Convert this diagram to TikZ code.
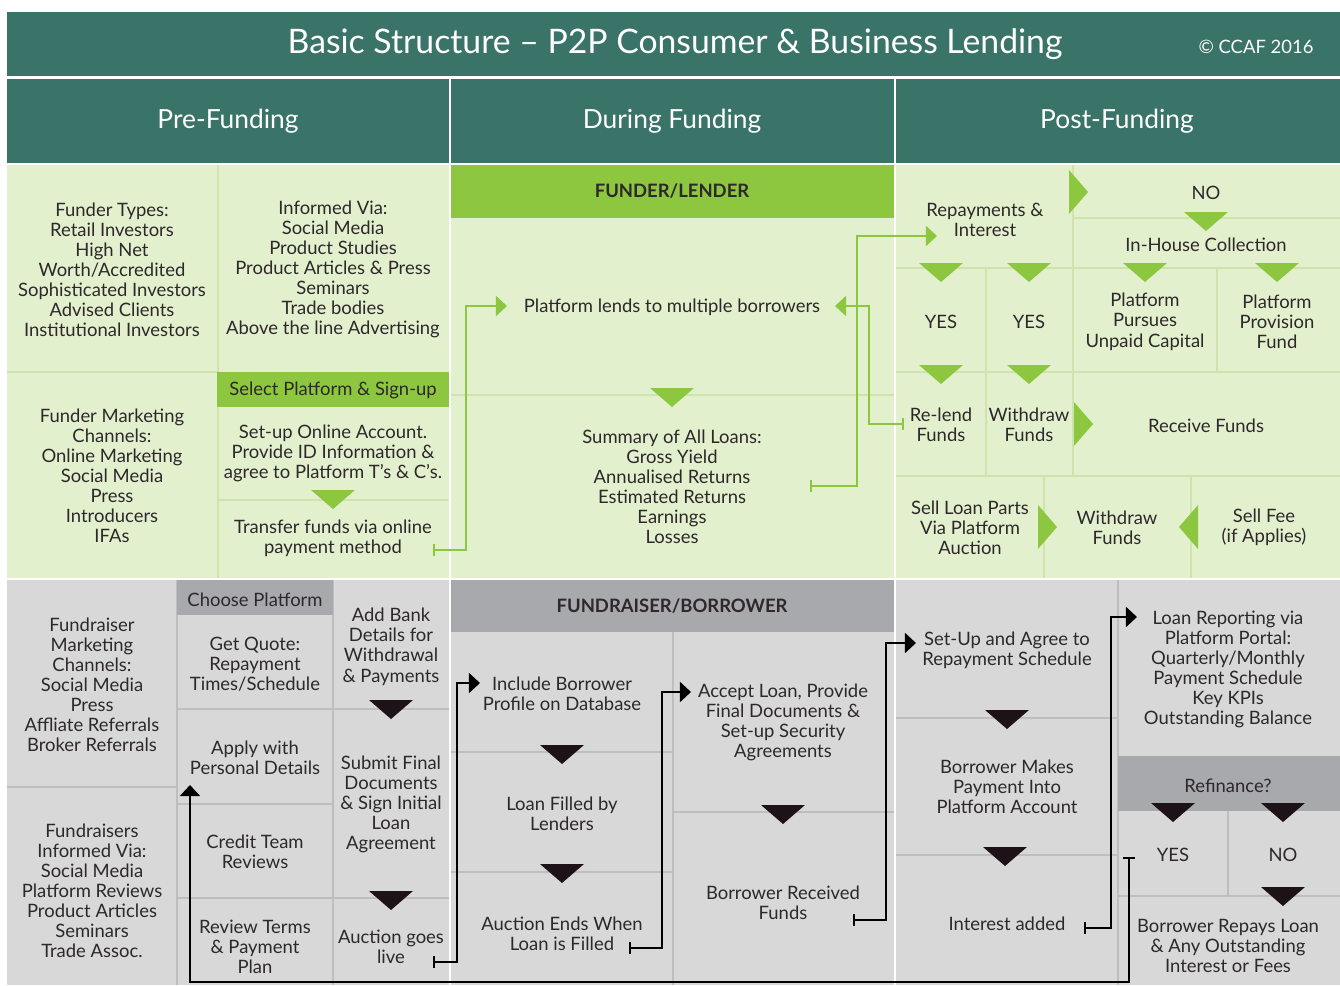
\documentclass[tikz,border=0pt]{standalone}
\usepackage{fontspec}
\setmainfont{Lato}
\usetikzlibrary{arrows.meta}

\definecolor{hdteal}{RGB}{58,115,104}
\definecolor{paleg}{RGB}{227,240,206}
\definecolor{lineg}{RGB}{206,228,172}
\definecolor{brightg}{RGB}{141,198,63}
\definecolor{palek}{RGB}{216,216,216}
\definecolor{linek}{RGB}{190,190,190}
\definecolor{darkk}{RGB}{168,169,172}
\definecolor{ink}{RGB}{45,40,42}
\definecolor{tri}{RGB}{30,18,25}

\tikzset{
    tridown/.pic={\fill (-22,0) -- (22,0) -- (0,19) -- cycle;},
    triright/.pic={\fill (0,-22) -- (19,0) -- (0,22) -- cycle;},
    trileft/.pic={\fill (0,-22) -- (-19,0) -- (0,22) -- cycle;}
}

\begin{document}
\begin{tikzpicture}[x=0.02cm, y=-0.02cm,
    txt/.style={align=center, text=ink, inner sep=0pt, yshift=-1pt, font=\fontsize{10.5}{11.4}\selectfont},
    head/.style={text=white, font=\fontsize{15}{17}\selectfont},
    tag/.style={text=ink, font=\bfseries\fontsize{10.5}{12}\selectfont},
    gline/.style={lineg, line width=1pt},
    kline/.style={linek, line width=1pt},
    gflow/.style={brightg, line width=1.1pt, {Bar[width=7pt]}-{Triangle[length=6.3pt, width=11.4pt]}},
    kflow/.style={black, line width=1.1pt, {Bar[width=7pt]}-{Triangle[length=6.3pt, width=11.4pt]}}
]

    % Frame
    \useasboundingbox (0,0) rectangle (1340,985);
    \fill[white] (0,0) rectangle (1340,985);

    % Title and column heads
    \fill[hdteal] (7,12) rectangle (1340,76);
    \fill[hdteal] (7,79) rectangle (449,163);
    \fill[hdteal] (451,79) rectangle (894,163);
    \fill[hdteal] (896,79) rectangle (1340,163);
    \node[text=white, font=\fontsize{19.2}{21}\selectfont] (title) at (675,44) {Basic Structure – P2P Consumer \& Business Lending};
    \node[text=white, font=\fontsize{10.5}{12}\selectfont] (ccaf) at (1256,47) {© CCAF 2016};
    \node[head] (pre) at (228,121) {Pre-Funding};
    \node[head] (during) at (672,121) {During Funding};
    \node[head] (post) at (1117,121) {Post-Funding};

    % Panels
    \fill[paleg] (7,165) rectangle (449,578);
    \fill[paleg] (451,165) rectangle (894,578);
    \fill[paleg] (896,165) rectangle (1340,578);
    \fill[palek] (7,580) rectangle (449,985);
    \fill[palek] (451,580) rectangle (894,985);
    \fill[palek] (896,580) rectangle (1340,985);

    % Funder grid
    \draw[gline] (218,165) -- (218,578);
    \draw[gline] (7,372) -- (218,372);
    \draw[gline] (218,500) -- (449,500);
    \draw[gline] (451,395) -- (894,395);
    \draw[gline] (1073,165) -- (1073,476);
    \draw[gline] (1073,218) -- (1340,218);
    \draw[gline] (896,268) -- (1340,268);
    \draw[gline] (986,268) -- (986,476);
    \draw[gline] (1217,268) -- (1217,372);
    \draw[gline] (896,372) -- (1340,372);
    \draw[gline] (896,476) -- (1340,476);
    \draw[gline] (1044,476) -- (1044,578);
    \draw[gline] (1191,476) -- (1191,578);

    % Fundraiser grid
    \draw[kline] (7,787) -- (177,787);
    \draw[kline] (177,580) -- (177,985);
    \draw[kline] (333,580) -- (333,985);
    \draw[kline] (177,709) -- (449,709);
    \draw[kline] (177,804) -- (333,804);
    \draw[kline] (177,898) -- (449,898);
    \draw[kline] (673,632) -- (673,985);
    \draw[kline] (451,752) -- (673,752);
    \draw[kline] (451,872) -- (673,872);
    \draw[kline] (673,812) -- (894,812);
    \draw[kline] (1118,580) -- (1118,985);
    \draw[kline] (896,718) -- (1118,718);
    \draw[kline] (896,855) -- (1118,855);
    \draw[kline] (1228,811) -- (1228,896);
    \draw[kline] (1118,896) -- (1340,896);

    % Bars
    \fill[brightg] (217,372) rectangle (449,407);
    \fill[brightg] (451,165) rectangle (894,218);
    \fill[darkk] (177,580) rectangle (333,615);
    \fill[darkk] (451,580) rectangle (894,632);
    \fill[darkk] (1118,756) rectangle (1340,811);
    \node[txt] (signup) at (333,389) {Select Platform \& Sign-up};
    \node[tag] (lender) at (672,191) {FUNDER/LENDER};
    \node[txt] (choose) at (255,598) {Choose Platform};
    \node[tag] (borrower) at (672,606) {FUNDRAISER/BORROWER};
    \node[txt] (refi) at (1228,784) {Refinance?};

    % Funder side
    \node[txt] (types) at (112,268) {Funder Types:\\Retail Investors\\High Net\\Worth/Accredited\\Sophisticated Investors\\Advised Clients\\Institutional Investors};
    \node[txt] (informed) at (333,268) {Informed Via:\\Social Media\\Product Studies\\Product Articles \& Press\\Seminars\\Trade bodies\\Above the line Advertising};
    \node[txt] (channels) at (112,474) {Funder Marketing\\Channels:\\Online Marketing\\Social Media\\Press\\Introducers\\IFAs};
    \node[txt] (account) at (333,452) {Set-up Online Account.\\Provide ID Information \&\\agree to Platform T’s \& C’s.};
    \node[txt] (transfer) at (333,537) {Transfer funds via online\\payment method};
    \node[txt] (lends) at (672,306) {Platform lends to multiple borrowers};
    \node[txt] (summary) at (672,485) {Summary of All Loans:\\Gross Yield\\Annualised Returns\\Estimated Returns\\Earnings\\Losses};
    \node[txt] (repay) at (985,218) {Repayments \&\\Interest};
    \node[txt] (no) at (1206,191) {NO};
    \node[txt] (inhouse) at (1206,243) {In-House Collection};
    \node[txt] (yesa) at (941,320) {YES};
    \node[txt] (yesb) at (1029,320) {YES};
    \node[txt] (pursue) at (1145,320) {Platform\\Pursues\\Unpaid Capital};
    \node[txt] (provision) at (1277,320) {Platform\\Provision\\Fund};
    \node[txt] (relend) at (941,423) {Re-lend\\Funds};
    \node[txt] (withdrawa) at (1029,423) {Withdraw\\Funds};
    \node[txt] (receive) at (1206,424) {Receive Funds};
    \node[txt] (sellparts) at (970,526) {Sell Loan Parts\\Via Platform\\Auction};
    \node[txt] (withdrawb) at (1117,526) {Withdraw\\Funds};
    \node[txt] (sellfee) at (1264,526) {Sell Fee\\(if Applies)};

    % Fundraiser side
    \node[txt] (fchannels) at (92,683) {Fundraiser\\Marketing\\Channels:\\Social Media\\Press\\Affliate Referrals\\Broker Referrals};
    \node[txt] (finformed) at (92,889) {Fundraisers\\Informed Via:\\Social Media\\Platform Reviews\\Product Articles\\Seminars\\Trade Assoc.};
    \node[txt] (quote) at (255,662) {Get Quote:\\Repayment\\Times/Schedule};
    \node[txt] (apply) at (255,756) {Apply with\\Personal Details};
    \node[txt] (credit) at (255,850) {Credit Team\\Reviews};
    \node[txt] (terms) at (255,945) {Review Terms\\\& Payment\\Plan};
    \node[txt] (bank) at (391,645) {Add Bank\\Details for\\Withdrawal\\\& Payments};
    \node[txt] (submit) at (391,803) {Submit Final\\Documents\\\& Sign Initial\\Loan\\Agreement};
    \node[txt] (live) at (391,945) {Auction goes\\live};
    \node[txt] (profile) at (562,692) {Include Borrower\\Profile on Database};
    \node[txt] (filled) at (562,812) {Loan Filled by\\Lenders};
    \node[txt] (ends) at (562,932) {Auction Ends When\\Loan is Filled};
    \node[txt] (accept) at (783,721) {Accept Loan, Provide\\Final Documents \&\\Set-up Security\\Agreements};
    \node[txt] (received) at (783,901) {Borrower Received\\Funds};
    \node[txt] (schedule) at (1007,649) {Set-Up and Agree to\\Repayment Schedule};
    \node[txt] (makes) at (1007,785) {Borrower Makes\\Payment Into\\Platform Account};
    \node[txt] (interest) at (1007,922) {Interest added};
    \node[txt] (reporting) at (1228,668) {Loan Reporting via\\Platform Portal:\\Quarterly/Monthly\\Payment Schedule\\Key KPIs\\Outstanding Balance};
    \node[txt] (yesc) at (1173,853) {YES};
    \node[txt] (noc) at (1283,853) {NO};
    \node[txt] (repays) at (1228,944) {Borrower Repays Loan\\\& Any Outstanding\\Interest or Fees};

    % Triangles
    \foreach \tx/\ty in {333/490, 672/388, 1206/212, 941/263, 1029/263, 1145/263, 1277/263, 941/365, 1029/365}
        \pic[fill=brightg] at (\tx,\ty) {tridown};
    \foreach \tx/\ty in {1069/192, 1074/424, 1038/527}
        \pic[fill=brightg] at (\tx,\ty) {triright};
    \pic[fill=brightg] at (1198,527) {trileft};
    \foreach \tx/\ty in {391/700, 391/891, 562/745, 562/864, 783/805, 1007/710, 1005/847, 1173/803, 1283/803, 1283/887}
        \pic[fill=tri] at (\tx,\ty) {tridown};

    % Flow ends
    \coordinate (transfer-out) at (433,550);
    \coordinate (lends-in) at (507,306);
    \coordinate (summary-out) at (810,486);
    \coordinate (repay-in) at (937,236);
    \coordinate (relend-out) at (904,424);
    \coordinate (lends-back) at (835,306);
    \coordinate (live-out) at (433,962);
    \coordinate (profile-in) at (480,683);
    \coordinate (ends-out) at (629,948);
    \coordinate (accept-in) at (691,692);
    \coordinate (received-out) at (853,920);
    \coordinate (schedule-in) at (916,643);
    \coordinate (interest-out) at (1084,928);
    \coordinate (reporting-in) at (1137,617);
    \coordinate (yesc-out) at (1129,857);
    \coordinate (apply-in) at (190,785);

    % Flows
    \draw[gflow] (transfer-out) -- ++(33,0) |- (lends-in);
    \draw[gflow] (summary-out) -- ++(47,0) |- (repay-in);
    \draw[gflow] (relend-out) -- ++(-35,0) |- (lends-back);
    \draw[kflow] (live-out) -- ++(24,0) |- (profile-in);
    \draw[kflow] (ends-out) -- ++(33,0) |- (accept-in);
    \draw[kflow] (received-out) -- ++(33,0) |- (schedule-in);
    \draw[kflow] (interest-out) -- ++(27,0) |- (reporting-in);
    \draw[kflow] (yesc-out) -- (1129,982) -| (apply-in);

\end{tikzpicture}
\end{document}
